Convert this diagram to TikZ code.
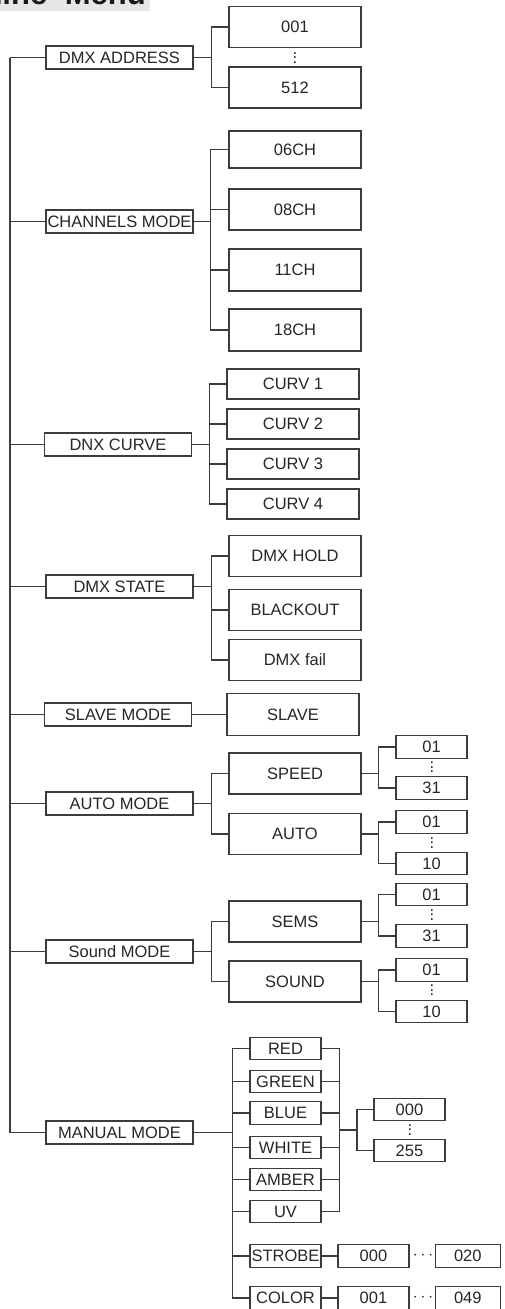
\documentclass[tikz,border=0pt]{standalone}
\usepackage{fontspec}
\setmainfont{Liberation Sans}
\usetikzlibrary{positioning}
\definecolor{gris}{HTML}{3C3C3C}
\definecolor{fondo}{HTML}{E6E6E6}
\tikzstyle{caja} = [rectangle, draw=gris, line width=1.3pt, text=black!85, inner sep=0pt, align=center, font=\fontsize{16.5}{19}\selectfont]
\tikzstyle{menu} = [caja, minimum width=147pt, minimum height=23pt]
\tikzstyle{opcion} = [caja, minimum width=132pt, minimum height=41pt]
\tikzstyle{curva} = [caja, minimum width=132pt, minimum height=30pt]
\tikzstyle{valor} = [caja, minimum width=71pt, minimum height=22.5pt]
\tikzstyle{linea} = [draw=gris, line width=1.3pt]
\tikzstyle{puntos} = [inner sep=0pt, text=black!85, font=\fontsize{16.5}{19}\selectfont]
% tres puntos verticales
\newcommand{\tresp}{\vbox{\baselineskip4.6pt\lineskiplimit0pt\hbox{.}\hbox{.}\hbox{.}}}

\begin{document}
\begin{tikzpicture}[x=1pt, y=-1pt]
    \useasboundingbox (0,0) rectangle (504,1309);
    % titulo
    \fill[fondo] (0,-5) rectangle (150,10.5);
    \node[anchor=base east, inner sep=0pt, text=black!90, font=\fontsize{31}{31}\selectfont\bfseries] (titulo) at (146,4.5) {Machine\hspace{9pt} Menu};

    % menu principal
    \node[menu] (dmx) at (119.5,57.5) {DMX ADDRESS};
    \node[menu] (chan) at (119.5,221.5) {CHANNELS MODE};
    \node[menu] (curve) at (118,444.5) {DNX CURVE};
    \node[menu] (state) at (119.5,586.5) {DMX STATE};
    \node[menu] (slave) at (118,714.5) {SLAVE MODE};
    \node[menu] (auto) at (119.5,803.5) {AUTO MODE};
    \node[menu] (sound) at (119.5,951.5) {Sound MODE};
    \node[menu] (manual) at (119.5,1132.5) {MANUAL MODE};

    \coordinate (arriba) at (10,57.5);
    \coordinate (abajo) at (10,1132.5);
    \draw[linea] (arriba) -- (abajo);
    \foreach \n in {dmx,chan,curve,state,slave,auto,sound,manual}
        \draw[linea] (\n.west) -- (\n.west -| arriba);

    % DMX ADDRESS
    \node[opcion] (d001) at (295,27) {001};
    \node[opcion] (d512) at (295,87.5) {512};
    \node[puntos] (dpts) at (295,58) {\tresp};
    \foreach \n in {d001,d512}
        \draw[linea] (dmx.east) -- ++(18,0) |- (\n.west);

    % CHANNELS MODE
    \foreach \t/\y/\h in {06CH/149.5/37, 08CH/209.5/41, 11CH/270/42, 18CH/330/42} {
        \node[opcion, minimum height=\h pt] (c\t) at (295,\y) {\t};
        \draw[linea] (chan.east) -- ++(17,0) |- (c\t.west);
    }

    % DNX CURVE
    \foreach \i/\y in {1/384, 2/424, 3/464, 4/504} {
        \node[curva] (cv\i) at (293,\y) {CURV \i};
        \draw[linea] (curve.east) -- ++(17,0) |- (cv\i.west);
    }

    % DMX STATE
    \node[opcion] (hold) at (295,556) {DMX HOLD};
    \node[opcion] (black) at (295,610) {BLACKOUT};
    \node[opcion] (fail) at (295,660) {DMX fail};
    \foreach \n in {hold,black,fail}
        \draw[linea] (state.east) -- ++(18,0) |- (\n.west);

    % SLAVE MODE
    \node[opcion, minimum height=42pt] (sl) at (293,714.5) {SLAVE};
    \draw[linea] (slave) -- (sl);

    % AUTO MODE
    \node[opcion] (speed) at (295,773.5) {SPEED};
    \node[opcion] (autom) at (295,834) {AUTO};
    \foreach \n in {speed,autom}
        \draw[linea] (auto.east) -- ++(18,0) |- (\n.west);
    \node[valor] (sp01) at (431.5,747) {01};
    \node[valor] (sp31) at (431.5,788) {31};
    \node[puntos] (sppts) at (432,767.5) {\tresp};
    \node[valor] (au01) at (431.5,822) {01};
    \node[valor] (au10) at (431.5,863.5) {10};
    \node[puntos] (aupts) at (432,843) {\tresp};
    \foreach \n in {sp01,sp31}
        \draw[linea] (speed.east) -- ++(17,0) |- (\n.west);
    \foreach \n in {au01,au10}
        \draw[linea] (autom.east) -- ++(17,0) |- (\n.west);

    % Sound MODE
    \node[opcion] (sems) at (295,921.5) {SEMS};
    \node[opcion] (soun) at (295,981.5) {SOUND};
    \foreach \n in {sems,soun}
        \draw[linea] (sound.east) -- ++(18,0) |- (\n.west);
    \node[valor] (se01) at (431.5,894.5) {01};
    \node[valor] (se31) at (431.5,936) {31};
    \node[puntos] (septs) at (432,915) {\tresp};
    \node[valor] (so01) at (431.5,970) {01};
    \node[valor] (so10) at (431.5,1011.5) {10};
    \node[puntos] (sopts) at (432,990.5) {\tresp};
    \foreach \n in {se01,se31}
        \draw[linea] (sems.east) -- ++(17,0) |- (\n.west);
    \foreach \n in {so01,so10}
        \draw[linea] (soun.east) -- ++(17,0) |- (\n.west);

    % MANUAL MODE
    \foreach \t/\y in {RED/1048.5, GREEN/1081.5, BLUE/1113, WHITE/1147.5, AMBER/1179.5, UV/1211.5, STROBE/1256, COLOR/1298} {
        \node[valor] (\t) at (285.5,\y) {\t};
        \draw[linea] (manual.east) -- ++(39,0) |- (\t.west);
    }
    \draw[linea] (RED.east) -- ++(18,0) |- (UV.east);
    \foreach \n in {GREEN,BLUE,WHITE,AMBER}
        \draw[linea] (\n.east) -- ++(18,0);
    \coordinate (junta) at (339,1130);
    \node[valor] (m000) at (409.5,1109.5) {000};
    \node[valor] (m255) at (409.5,1150.5) {255};
    \node[puntos] (mpts) at (410,1130) {\tresp};
    \foreach \n in {m000,m255}
        \draw[linea] (junta) -- ++(18,0) |- (\n.west);

    \node[valor] (s000) at (373.5,1256) {000};
    \node[valor, minimum width=65pt, right=25pt of s000] (s020) {020};
    \node[puntos] (spts) at (423,1256) {$\cdots$};
    \draw[linea] (STROBE) -- (s000);
    \node[valor] (c001) at (373.5,1298) {001};
    \node[valor, minimum width=65pt, right=25pt of c001] (c049) {049};
    \node[puntos] (cpts) at (423,1298) {$\cdots$};
    \draw[linea] (COLOR) -- (c001);
\end{tikzpicture}
\end{document}
